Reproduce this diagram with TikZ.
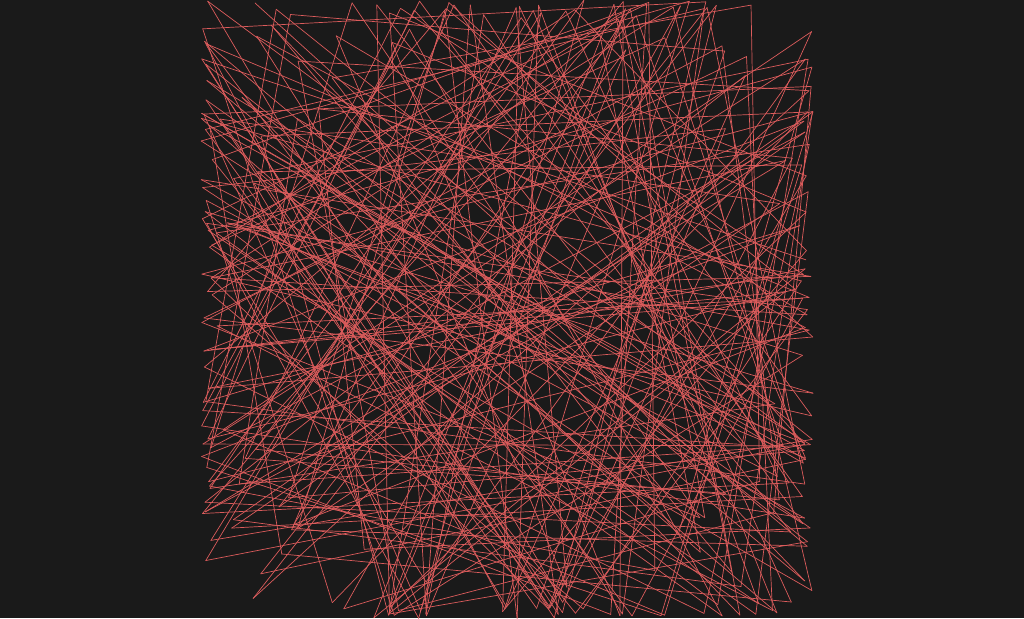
\documentclass[tikz,border=0pt]{standalone}
\definecolor{bgc}{HTML}{1A1A1A}
\definecolor{redline}{HTML}{DC5C5C}
\tikzset{scribble/.style={draw=redline, line width=0.7pt, line cap=round}}
\begin{document}
\begin{tikzpicture}[x=1pt,y=-1pt]
\fill[bgc] (0,0) rectangle (1024,618);
\useasboundingbox (0,0) rectangle (1024,618);
\pgfmathsetseed{31}
\gdef\ang{250}\gdef\px{255}\gdef\py{3}
\foreach \i in {1,...,250}{
  \pgfmathsetmacro\na{mod(\ang+70+120*rnd,360)}
  \pgfmathsetmacro\rr{0.7+0.45*rnd}
  \pgfmathsetmacro\nx{507+300*max(-1,min(1,1.3*\rr*cos(\na)))+12*rnd-6}
  \pgfmathsetmacro\ny{309+304*max(-1,min(1,1.3*\rr*sin(\na)))+12*rnd-6}
  \draw[scribble] (\px,\py) -- (\nx,\ny);
  \xdef\ang{\na}\xdef\px{\nx}\xdef\py{\ny}
}
\end{tikzpicture}
\end{document}
